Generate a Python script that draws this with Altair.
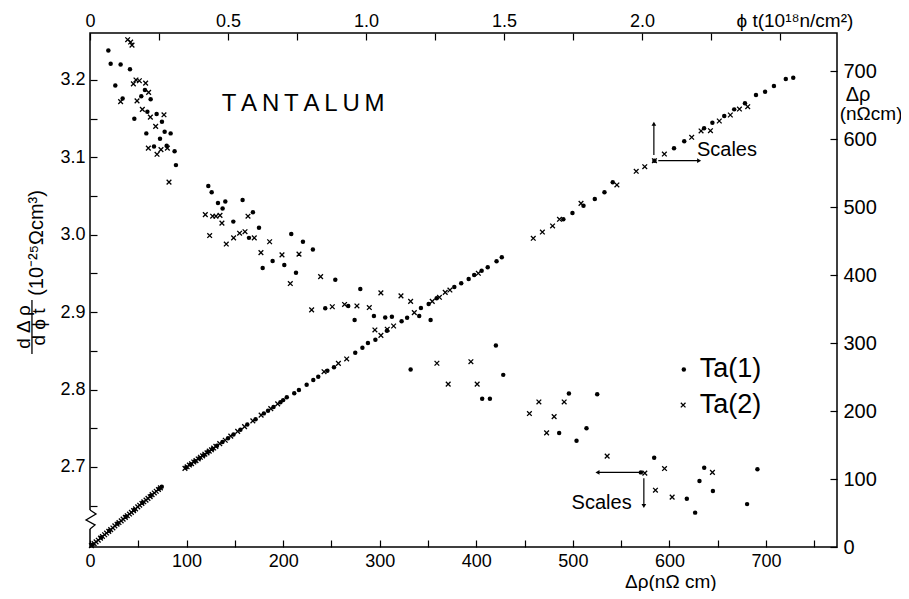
import altair as alt
import pandas as pd

# ---------------- data ----------------
# dΔρ/dφt (10^-25 Ω cm^3) versus Δρ (nΩ cm)  -- bottom / left axes
ta1_drho = [19, 21.4, 31.7, 41.4, 26.2, 33.8, 53.1, 56.9, 62.8, 45.9, 59.4, 69.0, 74.5, 58.3,
            72.5, 77.3, 83.5, 66.3, 79.4, 87.6, 89.0, 122.5, 126, 132.5, 140.1, 137.3, 158,
            168.7, 148.4, 175, 208.4, 220.5, 230.8, 164.6, 189.1, 178.8, 201.2, 213.3, 254,
            279.9, 243.6, 267.4, 274, 294, 305.7, 312.6, 340.9, 352.7, 332, 420.3, 427.9,
            406.1, 414.1, 495.9, 525.2, 485.8, 503.8, 514.1, 584.2, 570.4, 631.1, 636, 645,
            618, 626.6, 680.4, 691.1]
ta1_slope = [3.238, 3.221, 3.220, 3.214, 3.193, 3.176, 3.179, 3.187, 3.175, 3.150, 3.159, 3.156,
             3.146, 3.131, 3.124, 3.133, 3.131, 3.114, 3.115, 3.108, 3.090, 3.063, 3.055, 3.041,
             3.043, 3.034, 3.045, 3.029, 3.017, 3.009, 3.001, 2.991, 2.981, 2.996, 2.966, 2.957,
             2.961, 2.951, 2.942, 2.930, 2.905, 2.908, 2.890, 2.895, 2.893, 2.894, 2.895, 2.890,
             2.826, 2.857, 2.819, 2.788, 2.788, 2.795, 2.794, 2.744, 2.734, 2.750, 2.712, 2.693,
             2.682, 2.699, 2.669, 2.659, 2.641, 2.652, 2.697]
ta2_drho = [39, 42.1, 43.5, 44.9, 47.6, 51.1, 57.6, 60.7, 31.7, 48.7, 54.2, 62.5, 76.6, 68.0,
            60.4, 73.5, 69.4, 80.1, 81.8, 119.4, 127, 130.4, 134.6, 136.6, 163.6, 123.9, 141.1,
            148.7, 154.9, 160.5, 170.1, 177, 186, 198.8, 216.4, 207.4, 238.8, 229.5, 250.9,
            263.6, 276.4, 289.2, 301.2, 322, 332, 295, 307.8, 359.2, 394.4, 370.9, 400.9, 455,
            464.8, 491, 480.6, 472.8, 535.5, 574.5, 594.9, 585.5, 602.8, 644.5]
ta2_slope = [3.252, 3.249, 3.245, 3.195, 3.200, 3.199, 3.196, 3.184, 3.172, 3.173, 3.162, 3.152,
             3.155, 3.140, 3.112, 3.110, 3.104, 3.112, 3.068, 3.026, 3.024, 3.024, 3.025, 3.015,
             3.024, 2.999, 2.988, 2.996, 3.002, 3.004, 2.996, 2.977, 2.991, 2.974, 2.975, 2.937,
             2.946, 2.903, 2.907, 2.910, 2.908, 2.906, 2.925, 2.921, 2.914, 2.877, 2.878, 2.834,
             2.836, 2.807, 2.807, 2.769, 2.784, 2.784, 2.765, 2.744, 2.714, 2.692, 2.698, 2.670,
             2.661, 2.693]

# Δρ (nΩ cm) versus φt (10^18 n/cm^2)  -- top / right axes
ta1_phit = [0.01, 0.04, 0.07, 0.10, 0.13, 0.16, 0.19, 0.22, 0.25, 0.26,
            0.348, 0.364, 0.38, 0.396, 0.412, 0.428, 0.444, 0.46, 0.48, 0.50, 0.52, 0.545, 0.57,
            0.60, 0.63, 0.645, 0.665, 0.69, 0.70, 0.713, 0.740, 0.757, 0.785, 0.809, 0.827, 0.860,
            0.884, 0.961, 0.987, 1.007, 1.034, 1.076, 1.129, 1.149, 1.199, 1.227, 1.256, 1.320,
            1.345, 1.372, 1.392, 1.419, 1.441, 1.473, 1.492,
            1.715, 1.748, 1.788, 1.829, 1.864, 1.894, 2.045, 2.116, 2.153, 2.225, 2.255, 2.298,
            2.334, 2.373, 2.413, 2.446, 2.478, 2.521, 2.548]
ta1_rho = [3.5, 14, 24, 34.5, 44.5, 54.5, 65, 75.5, 85.5, 88.7,
           117, 121.5, 126, 130.5, 135, 140, 144, 149, 154.5, 160, 165.5, 172.5, 180,
           188, 196.5, 200.5, 206, 213, 216, 220.1, 226, 230.9, 238.7, 245.6, 250.4, 259.3,
           264.3, 285.8, 293.1, 300, 304.9, 318.1, 331.9, 337.2, 351.5, 357.4, 365.7, 382.4,
           387.8, 394.1, 400, 406.3, 411.3, 420.1, 426,
           481.9, 491.2, 502, 511.8, 521.6, 536.3, 568.1, 586.3, 596.6, 615.7, 624, 633.8,
           643.6, 652.5, 664.7, 669.6, 677.9, 688.2, 690.2]
ta2_phit = [0.005, 0.015, 0.022, 0.03, 0.038, 0.045, 0.053, 0.06, 0.068, 0.075, 0.083, 0.09,
            0.098, 0.105, 0.113, 0.12, 0.128, 0.135, 0.143, 0.15, 0.158, 0.165, 0.173, 0.18,
            0.188, 0.195, 0.203, 0.21, 0.218, 0.225, 0.233, 0.24, 0.248, 0.255,
            0.344, 0.352, 0.36, 0.368, 0.376, 0.384, 0.392, 0.40, 0.408, 0.416, 0.424, 0.432,
            0.44, 0.448, 0.456, 0.47, 0.49, 0.51, 0.535, 0.56, 0.59, 0.62, 0.655, 0.68, 0.848,
            0.900, 0.930, 1.054, 1.100, 1.175, 1.240, 1.266, 1.287, 1.304, 1.407,
            1.606, 1.639, 1.676, 1.701, 1.779, 1.909, 1.979, 2.010, 2.045, 2.081, 2.180, 2.214,
            2.248, 2.280, 2.320, 2.353, 2.383]
ta2_rho = [2, 5, 7.5, 10, 13, 15.5, 18, 20.5, 23, 25.5, 28, 31,
           33.5, 36, 38.5, 41, 43.5, 46, 48.5, 51, 53.5, 56, 59, 61.5,
           64, 66.5, 69, 71.5, 74, 77, 79.5, 82, 84.5, 87,
           115.7, 118, 120.5, 122.5, 125, 127, 129.5, 132, 134, 136.5, 138.5, 141,
           143, 145.5, 148, 152, 157, 163, 170, 177, 185.5, 194, 203.5, 210.5, 257.8,
           270.1, 276.5, 311.3, 325, 344.6, 361.3, 367.2, 374.5, 377.9, 402.5,
           454, 463.2, 472.1, 481.9, 505.4, 532.4, 552.5, 559.3, 568.1, 577.9, 602.5, 611.8,
           612.2, 626.5, 635.3, 644.1, 647.5]

# tick values
bottom_ticks = [0, 50, 100, 150, 200, 250, 300, 350, 400, 450, 500, 550, 600, 650, 700, 750]
left_ticks = [2.65, 2.70, 2.75, 2.80, 2.85, 2.90, 2.95, 3.00, 3.05, 3.10, 3.15, 3.20]
top_ticks = [0, 0.25, 0.5, 0.75, 1.0, 1.25, 1.5, 1.75, 2.0, 2.25, 2.5]
right_ticks = [0, 100, 200, 300, 400, 500, 600, 700]

# ---------------- chart ----------------
FONT = "Liberation Sans"
CROSS = "M-1,-1L1,1M-1,1L1,-1"

SXA = alt.Scale(domain=[0, 773.5], nice=False, zero=False)
SYA = alt.Scale(domain=[2.5966, 3.2607], nice=False, zero=False)
SXB = alt.Scale(domain=[0, 2.7065], nice=False, zero=False)
SYB = alt.Scale(domain=[0, 755.9], nice=False, zero=False)

common_axis = dict(offset=-7, tickSize=7, domain=False, grid=False, title=None,
                   labelColor="black", tickColor="black", tickWidth=1.2,
                   labelFont=FONT, labelFlush=False, labelOverlap=False, labelBound=False)

ax_bottom = alt.Axis(orient="bottom", values=bottom_ticks, labelFontSize=18, labelPadding=5,
                     labelExpr="datum.value % 100 == 0 && datum.value <= 700 ? datum.label : ''",
                     **common_axis)
ax_left = alt.Axis(orient="left", values=left_ticks, labelFontSize=18, labelPadding=5,
                   labelExpr="round(datum.value*100) % 10 == 0 ? format(datum.value, '.1f') : ''",
                   **common_axis)
ax_top = alt.Axis(orient="top", values=top_ticks, labelFontSize=18, labelPadding=3,
                  labelExpr="datum.value == 0 ? '0' : (round(datum.value*4) % 2 == 0 && datum.value < 2.1 ? format(datum.value, '.1f') : '')",
                  **common_axis)
ax_right = alt.Axis(orient="right", values=right_ticks, labelFontSize=20, labelPadding=6,
                    format="d", **common_axis)


# every child of a layer carries the same axis, so the merged axis is kept
def xa(f):
    return alt.X(f, type="quantitative", scale=SXA, axis=ax_bottom)


def ya(f):
    return alt.Y(f, type="quantitative", scale=SYA, axis=ax_left)


def xb(f):
    return alt.X(f, type="quantitative", scale=SXB, axis=ax_top)


def yb(f):
    return alt.Y(f, type="quantitative", scale=SYB, axis=ax_right)


df_s1 = pd.DataFrame({"x": ta1_drho, "y": ta1_slope})
df_s2 = pd.DataFrame({"x": ta2_drho, "y": ta2_slope})
df_l1 = pd.DataFrame({"x": ta1_phit, "y": ta1_rho})
df_l2 = pd.DataFrame({"x": ta2_phit, "y": ta2_rho})

dot_kw = dict(size=20, color="black", opacity=1)
cross_kw = dict(shape=CROSS, size=22, filled=False, stroke="black", strokeWidth=1.3, opacity=1)

s_dots = alt.Chart(df_s1).mark_circle(**dot_kw).encode(x=xa("x"), y=ya("y"))
s_cross = alt.Chart(df_s2).mark_point(**cross_kw).encode(x=xa("x"), y=ya("y"))

l_dots = alt.Chart(df_l1).mark_circle(**dot_kw).encode(x=xb("x"), y=yb("y"))
l_cross = alt.Chart(df_l2).mark_point(**cross_kw).encode(x=xb("x"), y=yb("y"))


def text_a(x, y, s, size, align="left", angle=0):
    d = pd.DataFrame({"x": [x], "y": [y], "t": [s]})
    return alt.Chart(d).mark_text(align=align, baseline="middle", fontSize=size, font=FONT,
                                  color="black", angle=angle).encode(
        x=xa("x"), y=ya("y"), text="t:N")


def text_b(x, y, s, size, align="left"):
    d = pd.DataFrame({"x": [x], "y": [y], "t": [s]})
    return alt.Chart(d).mark_text(align=align, baseline="middle", fontSize=size, font=FONT,
                                  color="black").encode(x=xb("x"), y=yb("y"), text="t:N")


# legend symbols
leg1 = alt.Chart(pd.DataFrame({"x": [614.9], "y": [2.826]})).mark_circle(**dot_kw).encode(
    x=xa("x"), y=ya("y"))
leg2 = alt.Chart(pd.DataFrame({"x": [614.2], "y": [2.780]})).mark_point(**cross_kw).encode(
    x=xa("x"), y=ya("y"))

# "Scales" arrows (lower, bottom/left scales)
arr_a_h = alt.Chart(pd.DataFrame({"x": [569.4], "x2": [526.5], "y": [2.693]})).mark_rule(
    color="black", strokeWidth=1.2).encode(x=xa("x"), x2="x2", y=ya("y"))
arr_a_v = alt.Chart(pd.DataFrame({"x": [573.5], "y": [2.6855], "y2": [2.6507]})).mark_rule(
    color="black", strokeWidth=1.2).encode(x=xa("x"), y=ya("y"), y2="y2")
head_a_l = alt.Chart(pd.DataFrame({"x": [525.5], "y": [2.693]})).mark_point(
    shape="triangle-left", size=22, filled=True, color="black", opacity=1).encode(x=xa("x"), y=ya("y"))
head_a_d = alt.Chart(pd.DataFrame({"x": [573.5], "y": [2.6495]})).mark_point(
    shape="triangle-down", size=22, filled=True, color="black", opacity=1).encode(x=xa("x"), y=ya("y"))

# left-axis break (zigzag)
zig_x = [0, 6.2, -4.1, 5.2, 0]
zig_y = [2.6444, 2.6393, 2.6315, 2.6251, 2.6199]
zig_df = pd.DataFrame({"x": zig_x, "y": zig_y, "o": list(range(5))})
gap = alt.Chart(pd.DataFrame({"x": [0], "y": [2.6444], "y2": [2.6199]})).mark_rule(
    color="white", strokeWidth=4).encode(x=xa("x"), y=ya("y"), y2="y2")
zig = alt.Chart(zig_df).mark_line(color="black", strokeWidth=1.3).encode(
    x=xa("x"), y=ya("y"), order="o:Q")

# left axis title as a fraction
frac_bar = alt.Chart(pd.DataFrame({"x": [-60.1], "y": [2.9158], "y2": [2.8460]})).mark_rule(
    color="black", strokeWidth=1.3).encode(x=xa("x"), y=ya("y"), y2="y2")

TS = "\u2009"
layer_a = alt.layer(
    s_dots, s_cross, gap, zig, leg1, leg2,
    arr_a_h, arr_a_v, head_a_l, head_a_d,
    text_a(136.3, 3.169, TS.join("TANTALUM"), 24),
    text_a(631.4, 2.826, "Ta(1)", 27),
    text_a(631.4, 2.780, "Ta(2)", 27),
    text_a(498.7, 2.654, "Scales", 20),
    text_a(601.4, 2.5518, "Δρ(nΩ cm)", 19, align="center"),
    text_a(-68.3, 2.8809, "d Δ ρ", 19, align="center", angle=270),
    text_a(-52.8, 2.8809, "d ϕ t", 19, align="center", angle=270),
    text_a(-54.5, 2.9894, "(10⁻²⁵Ωcm³)", 20, align="center", angle=270),
    frac_bar,
)

# "Scales" arrows (upper, top/right scales)
arr_b_v = alt.Chart(pd.DataFrame({"x": [2.043], "y": [576.5], "y2": [621.0]})).mark_rule(
    color="black", strokeWidth=1.2).encode(x=xb("x"), y=yb("y"), y2="y2")
arr_b_h = alt.Chart(pd.DataFrame({"x": [2.059], "x2": [2.203], "y": [568.1]})).mark_rule(
    color="black", strokeWidth=1.2).encode(x=xb("x"), x2="x2", y=yb("y"))
head_b_u = alt.Chart(pd.DataFrame({"x": [2.043], "y": [622.5]})).mark_point(
    shape="triangle-up", size=22, filled=True, color="black", opacity=1).encode(x=xb("x"), y=yb("y"))
head_b_r = alt.Chart(pd.DataFrame({"x": [2.207], "y": [568.1]})).mark_point(
    shape="triangle-right", size=22, filled=True, color="black", opacity=1).encode(x=xb("x"), y=yb("y"))

layer_b = alt.layer(
    l_dots, l_cross,
    arr_b_v, arr_b_h, head_b_u, head_b_r,
    text_b(2.199, 583.8, "Scales", 20),
    text_b(2.554, 773.5, "ϕ t(10¹⁸n/cm²)", 19, align="center"),
    text_b(2.783, 664.7, "Δρ", 20, align="center"),
    text_b(2.830, 636.8, "(nΩcm)", 19, align="center"),
)

chart = alt.layer(layer_a, layer_b).resolve_scale(
    x="independent", y="independent"
).properties(
    width=747, height=514,
    autosize=alt.AutoSizeParams(type="none"),
    padding={"left": 82, "top": 25, "right": 64, "bottom": 44},
    background="white",
).configure_view(
    stroke="black", strokeWidth=1.5
)

chart.save("out.html", embed_options={"renderer": "svg", "actions": False})
